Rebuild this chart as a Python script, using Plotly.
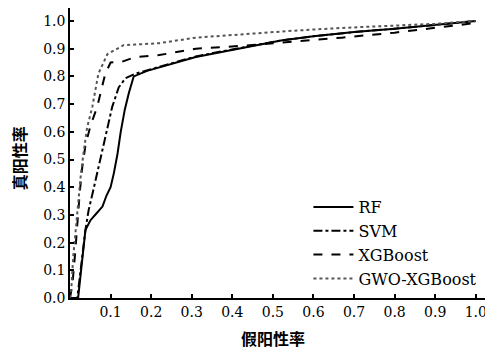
import plotly.graph_objects as go

# ROC data
rf_x = [0, 0.02, 0.038, 0.05, 0.065, 0.08, 0.09, 0.1, 0.108, 0.117, 0.125, 0.135, 0.145, 0.157, 0.19, 0.25, 0.31, 0.38, 0.45, 0.52, 0.6, 0.7, 0.8, 0.9, 1.0]
rf_y = [0, 0.0, 0.245, 0.28, 0.305, 0.33, 0.37, 0.40, 0.45, 0.52, 0.60, 0.68, 0.74, 0.80, 0.82, 0.845, 0.87, 0.89, 0.91, 0.93, 0.945, 0.96, 0.972, 0.985, 1.0]

svm_x = [0, 0.018, 0.038, 0.046, 0.056, 0.067, 0.08, 0.092, 0.104, 0.12, 0.137, 0.161, 0.19, 0.25, 0.31, 0.38, 0.45, 0.52, 0.6, 0.7, 0.8, 0.9, 1.0]
svm_y = [0, 0.0, 0.245, 0.318, 0.38, 0.45, 0.54, 0.614, 0.69, 0.76, 0.794, 0.81, 0.822, 0.847, 0.872, 0.892, 0.912, 0.93, 0.945, 0.96, 0.972, 0.985, 1.0]

xgb_x = [0, 0.006, 0.012, 0.018, 0.024, 0.03, 0.038, 0.05, 0.067, 0.087, 0.1, 0.128, 0.161, 0.22, 0.31, 0.45, 0.55, 0.67, 0.8, 0.9, 1.0]
xgb_y = [0, 0.05, 0.15, 0.27, 0.38, 0.47, 0.55, 0.62, 0.69, 0.81, 0.85, 0.853, 0.87, 0.877, 0.90, 0.913, 0.925, 0.94, 0.958, 0.975, 0.993]

gwo_x = [0, 0.004, 0.008, 0.014, 0.02, 0.027, 0.033, 0.042, 0.055, 0.07, 0.092, 0.116, 0.132, 0.16, 0.22, 0.31, 0.46, 0.55, 0.67, 0.8, 0.9, 1.0]
gwo_y = [0, 0.05, 0.15, 0.25, 0.35, 0.45, 0.52, 0.614, 0.69, 0.81, 0.88, 0.90, 0.913, 0.915, 0.92, 0.94, 0.957, 0.965, 0.975, 0.982, 0.99, 1.0]

x_ticks = [0.1, 0.2, 0.3, 0.4, 0.5, 0.6, 0.7, 0.8, 0.9, 1.0]
y_ticks = [0.0, 0.1, 0.2, 0.3, 0.4, 0.5, 0.6, 0.7, 0.8, 0.9, 1.0]

x_title = "假阳性率"
y_title = "真阳性率"

serif = "DejaVu Serif"
cjk = "Noto Sans CJK SC"

fig = go.Figure()
fig.add_trace(go.Scatter(x=rf_x, y=rf_y, mode="lines", name="RF",
                         line=dict(color="black", width=2, dash="solid")))
fig.add_trace(go.Scatter(x=svm_x, y=svm_y, mode="lines", name="SVM",
                         line=dict(color="black", width=2, dash="dashdot")))
fig.add_trace(go.Scatter(x=xgb_x, y=xgb_y, mode="lines", name="XGBoost",
                         line=dict(color="black", width=2, dash="dash")))
fig.add_trace(go.Scatter(x=gwo_x, y=gwo_y, mode="lines", name="GWO-XGBoost",
                         line=dict(color="#555555", width=2, dash="dot")))

# the page body has an 8px margin, so the figure is sized to fit inside it
fig.update_layout(
    width=485, height=341,
    margin=dict(l=62, r=1, t=0, b=51, autoexpand=False),
    paper_bgcolor="white", plot_bgcolor="white",
    font=dict(family=serif, size=14, color="black"),
    legend=dict(x=0.565, y=0.372, xanchor="left", yanchor="top",
                bgcolor="rgba(0,0,0,0)", font=dict(family=serif, size=16),
                tracegroupgap=0, itemwidth=40),
    showlegend=True,
    annotations=[
        dict(text=x_title, xref="paper", yref="paper", x=0.48, y=-0.09,
             xanchor="center", yanchor="top", showarrow=False,
             font=dict(family=cjk, size=16, color="black", weight="bold")),
        dict(text=y_title, xref="paper", yref="paper", x=-0.122, y=0.48,
             xanchor="center", yanchor="middle", showarrow=False, textangle=-90,
             font=dict(family=cjk, size=16, color="black", weight="bold")),
    ],
)
fig.update_xaxes(
    range=[0, 1.04], tickvals=x_ticks, ticktext=[f"{v:.1f}" for v in x_ticks],
    tickfont=dict(family=serif, size=14),
    ticks="inside", ticklen=4, tickwidth=1.5, tickcolor="black", automargin=False,
    showline=True, linecolor="black", linewidth=1.5, showgrid=False, zeroline=False,
)
fig.update_yaxes(
    range=[0, 1.047], tickvals=y_ticks, ticktext=[f"{v:.1f}" for v in y_ticks],
    tickfont=dict(family=serif, size=14),
    ticks="inside", ticklen=4, tickwidth=1.5, tickcolor="black", automargin=False,
    showline=True, linecolor="black", linewidth=1.5, showgrid=False, zeroline=False,
)

fig.write_html("out.html")
